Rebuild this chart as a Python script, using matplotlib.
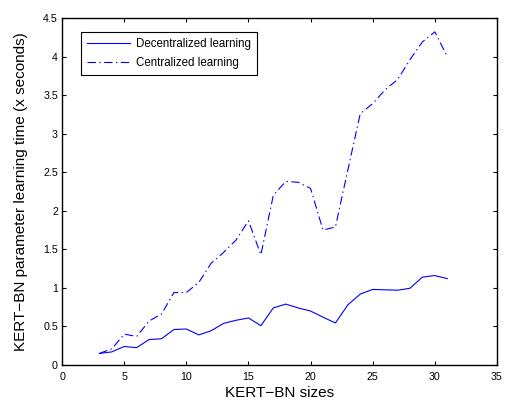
import matplotlib
matplotlib.use("Agg")
import matplotlib.pyplot as plt

plt.rcParams['font.family'] = ['Liberation Sans', 'DejaVu Sans']
plt.rcParams['lines.scale_dashes'] = False

sizes = list(range(3, 32))
decentralized = [0.15, 0.17, 0.24, 0.225, 0.33, 0.34, 0.46, 0.467, 0.39, 0.445,
                 0.54, 0.58, 0.61, 0.51, 0.74, 0.79, 0.74, 0.70, 0.62, 0.545,
                 0.78, 0.92, 0.98, 0.975, 0.97, 0.995, 1.14, 1.16, 1.12]
centralized = [0.15, 0.21, 0.40, 0.37, 0.57, 0.66, 0.94, 0.94, 1.07, 1.32,
               1.46, 1.62, 1.87, 1.43, 2.2, 2.38, 2.37, 2.29, 1.75, 1.79,
               2.53, 3.26, 3.39, 3.57, 3.70, 3.96, 4.19, 4.32, 4.0]
xticks = [0, 5, 10, 15, 20, 25, 30, 35]
yticks = [0, 0.5, 1, 1.5, 2, 2.5, 3, 3.5, 4, 4.5]
yticklabels = ['0', '0.5', '1', '1.5', '2', '2.5', '3', '3.5', '4', '4.5']

fig = plt.figure(figsize=(5.05, 4.0), dpi=100)
ax = fig.add_axes([0.123, 0.0875, 0.861, 0.8675])

ax.plot(sizes, decentralized, color='#0000ff', lw=0.8, label='Decentralized learning')
ax.plot(sizes, centralized, color='#0000ff', lw=0.8, dashes=(6, 2.5, 1, 2.5),
        label='Centralized learning')

ax.set_xlim(0, 35)
ax.set_ylim(0, 4.5)
ax.set_xticks(xticks)
ax.set_yticks(yticks)
ax.set_yticklabels(yticklabels)
ax.tick_params(direction='in', top=True, right=True, labelsize=7.7, length=3, width=0.8)
ax.tick_params(axis='x', pad=5)
ax.tick_params(axis='y', pad=3)
for s in ax.spines.values():
    s.set_linewidth(1.0)

ax.set_xlabel('KERT\u2212BN sizes', fontsize=11, labelpad=3)
ax.set_ylabel('KERT\u2212BN parameter learning time (x seconds)', fontsize=11, labelpad=11)

leg = ax.legend(loc='upper left', bbox_to_anchor=(0.03, 0.975), fontsize=8.3,
                frameon=True, fancybox=False, edgecolor='black', framealpha=1,
                handlelength=3.8, borderpad=0.5, labelspacing=0.6, handletextpad=0.5)
leg.get_frame().set_linewidth(0.8)

fig.savefig('out.png', dpi=100)
